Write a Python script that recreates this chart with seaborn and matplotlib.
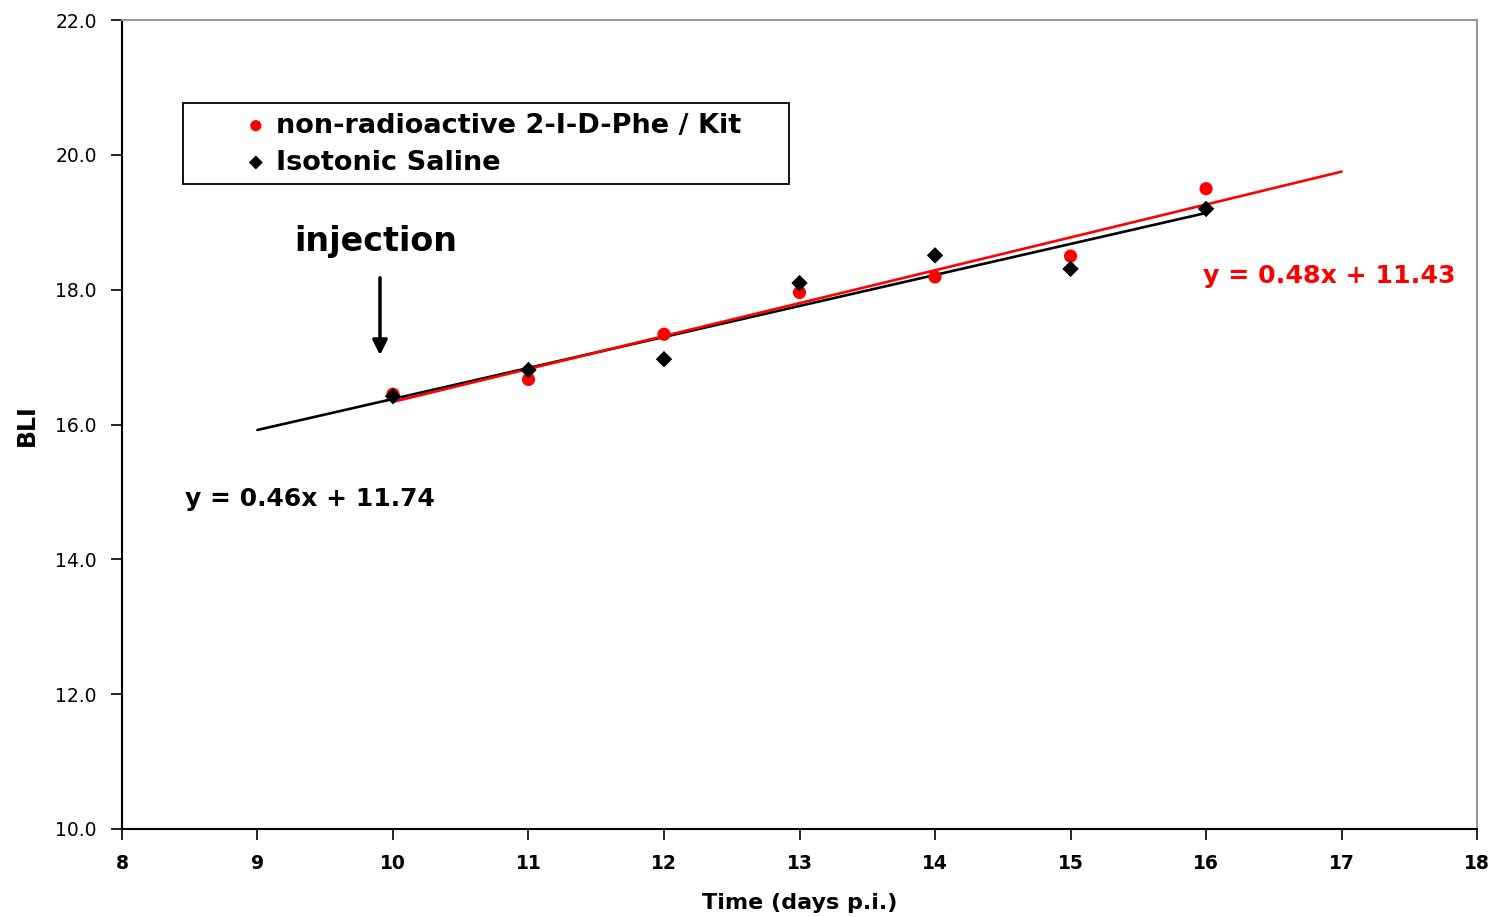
import numpy as np
import pandas as pd
import matplotlib
matplotlib.use("Agg")
import matplotlib.pyplot as plt
from matplotlib.patches import Rectangle
import seaborn as sns

days = [10, 11, 12, 13, 14, 15, 16]
bli_kit = [16.45, 16.67, 17.34, 17.96, 18.19, 18.50, 19.50]
bli_saline = [16.42, 16.81, 16.97, 18.10, 18.51, 18.31, 19.20]
label_kit = "non-radioactive 2-I-D-Phe / Kit"
label_saline = "Isotonic Saline"
eq_kit = "y = 0.48x + 11.43"
eq_saline = "y = 0.46x + 11.74"
x_ticks = [8, 9, 10, 11, 12, 13, 14, 15, 16, 17, 18]
y_ticks = [10.0, 12.0, 14.0, 16.0, 18.0, 20.0, 22.0]

sns.set_style("white")
plt.rcParams['font.family'] = ['DejaVu Sans']
plt.rcParams['text.color'] = "black"
plt.rcParams['axes.labelcolor'] = "black"

df = pd.DataFrame({"day": days, "kit": bli_kit, "saline": bli_saline})

fig = plt.figure(figsize=(15.02, 9.17), dpi=100)
ax = fig.add_axes([0.0812, 0.096, 0.9022, 0.882])

# linear trendlines (kit extended 1 day forward, saline 1 day back)
k_fit = np.polyfit(df["day"], df["kit"], 1)
s_fit = np.polyfit(df["day"], df["saline"], 1)
xk = np.array([days[0], days[-1] + 1])
xs = np.array([days[0] - 1, days[-1]])
sns.lineplot(x=xs, y=np.polyval(s_fit, xs), color="black", lw=1.9, ax=ax)
sns.lineplot(x=xk, y=np.polyval(k_fit, xk), color="#ff0000", lw=1.9, ax=ax)

sns.scatterplot(data=df, x="day", y="kit", color="#ff0000", marker="o",
                s=90, edgecolor="none", label=label_kit, ax=ax, zorder=3)
sns.scatterplot(data=df, x="day", y="saline", color="black", marker="D",
                s=70, edgecolor="none", label=label_saline, ax=ax, zorder=3)

ax.set_xlim(8, 18)
ax.set_ylim(10, 22)
ax.set_xticks(x_ticks)
ax.set_xticklabels([str(t) for t in x_ticks], fontweight="bold", fontsize=13.5)
ax.set_yticks(y_ticks)
ax.set_yticklabels([f"{t:.1f}" for t in y_ticks], fontsize=13.5)
ax.tick_params(axis="both", direction="out", length=8, width=1.2,
               bottom=True, left=True, colors="black")
ax.tick_params(axis="x", pad=10)
ax.tick_params(axis="y", pad=10)
ax.set_xlabel("Time (days p.i.)", fontsize=16, fontweight="bold", va="center")
ax.xaxis.set_label_coords(0.5, -0.0915)
ax.set_ylabel("BLI", fontsize=17, fontweight="bold", va="center")
ax.yaxis.set_label_coords(-0.0701, 0.4994)

for side in ["left", "bottom"]:
    ax.spines[side].set_color("black")
    ax.spines[side].set_linewidth(1.5)
for side in ["top", "right"]:
    ax.spines[side].set_color("#999999")
    ax.spines[side].set_linewidth(1.5)

# legend entries without frame, box drawn separately
leg = ax.legend(loc="center left", bbox_to_anchor=(0.0908, 0.8467),
                prop={"weight": "bold", "size": 19.5}, frameon=False,
                borderpad=0, handlelength=0.8, handletextpad=0.35,
                labelspacing=0.4, borderaxespad=0, markerscale=0.85,
                labelcolor="black")
ax.add_patch(Rectangle((0.045, 0.797), 0.447, 0.101, transform=ax.transAxes,
                       fill=False, edgecolor="black", lw=1.3, zorder=4))

ax.annotate("", xy=(9.904, 16.99), xytext=(9.904, 18.22),
            arrowprops=dict(arrowstyle="-|>", color="black", lw=2.5,
                            mutation_scale=22))
ax.text(9.87, 18.71, "injection", ha="center", va="center",
        fontsize=24, fontweight="bold")

ax.text(8.465, 14.89, eq_saline, ha="left", va="center",
        fontsize=18, fontweight="bold", color="black")
ax.text(15.98, 18.2, eq_kit, ha="left", va="center",
        fontsize=18.2, fontweight="bold", color="#ff0000")

fig.savefig("out.png", dpi=100)
